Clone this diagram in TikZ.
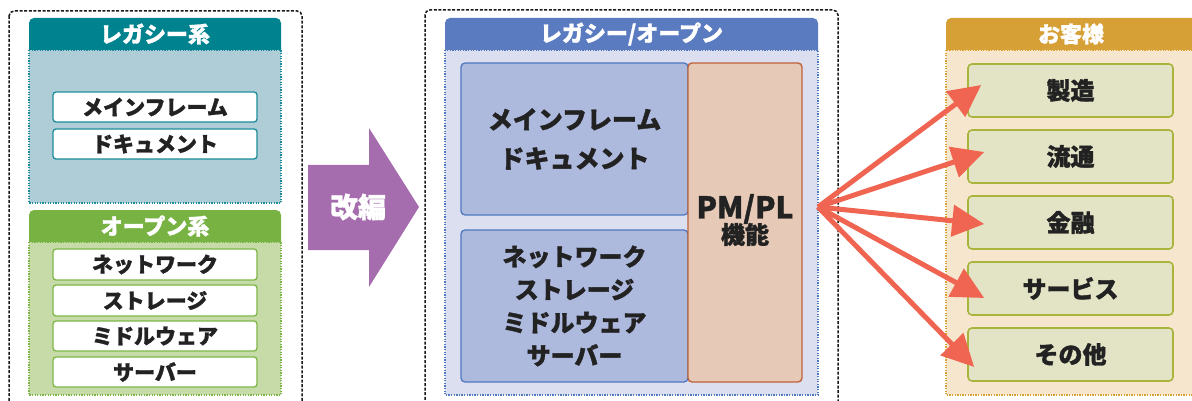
\documentclass[tikz,border=0pt]{standalone}
\usepackage{fontspec}
\setmainfont{Noto Sans CJK JP}[BoldFeatures={FakeBold=1.3}]
\usetikzlibrary{arrows.meta}
\definecolor{tealhdr}{HTML}{00838F}
\definecolor{tealbody}{HTML}{AFCDD6}
\definecolor{tealline}{HTML}{1A8C9A}
\definecolor{greenhdr}{HTML}{77B243}
\definecolor{greenbody}{HTML}{C6DBA8}
\definecolor{greenline}{HTML}{7DB648}
\definecolor{purplearr}{HTML}{A56DAD}
\definecolor{bluehdr}{HTML}{5A7BC0}
\definecolor{bluebody}{HTML}{DCDFF0}
\definecolor{blueline}{HTML}{4E78C0}
\definecolor{bluebox}{HTML}{AEB9DE}
\definecolor{pmfill}{HTML}{E6CAB7}
\definecolor{pmline}{HTML}{C0623A}
\definecolor{goldhdr}{HTML}{D6A037}
\definecolor{goldbody}{HTML}{F6E6CD}
\definecolor{goldline}{HTML}{D9A234}
\definecolor{custfill}{HTML}{E3E4C6}
\definecolor{custline}{HTML}{A9B43C}
\definecolor{coral}{HTML}{EF6551}
\definecolor{ink}{HTML}{222222}
\tikzset{
  outerbox/.style={draw=black!90, dash pattern=on 3pt off 1.6pt, line width=1.5pt, rounded corners=5pt},
  bodybox/.style={line width=1.4pt, dash pattern=on 1.3pt off 1.3pt},
  hdrtext/.style={text=white, font=\bfseries\fontsize{22}{22}\selectfont, inner sep=0pt},
  itembox/.style={rounded corners=3pt, fill=white, line width=1.3pt, minimum width=204pt, text=ink, font=\bfseries\fontsize{21}{21}\selectfont, inner sep=0pt},
  bigbox/.style={rounded corners=4pt, fill=bluebox, draw=blueline, line width=1.3pt, minimum width=227pt, minimum height=152pt, text=ink, align=center, inner sep=0pt},
  custbox/.style={rounded corners=4pt, fill=custfill, draw=custline, line width=1.6pt, minimum width=205pt, minimum height=53pt, text=ink, font=\bfseries\fontsize{24}{24}\selectfont, inner sep=0pt},
  carrow/.style={draw=coral, line width=5pt, -{Triangle[length=32pt,width=31pt]}}
}
\begin{document}
\begin{tikzpicture}[x=1pt,y=-1pt]
\useasboundingbox (0,0) rectangle (1192,401);
\clip (0,0) rectangle (1192,401);
% ---------- left panel ----------
\draw[outerbox] (9,11) rectangle (302,430);
\draw[bodybox, draw=tealline, fill=tealbody] (29,50) rectangle (281,203);
\fill[tealhdr] (29,50) [rounded corners=5pt] -- (29,18) -- (281,18) [sharp corners] -- (281,50) -- cycle;
\node[hdrtext] (legacyhdr) at (155,34) {レガシー系};
\node[itembox, draw=tealline, minimum height=30pt] (mf) at (155,107) {メインフレーム};
\node[itembox, draw=tealline, minimum height=30pt] (doc) at (155,144) {ドキュメント};
\draw[bodybox, draw=greenline, fill=greenbody] (29,242) rectangle (281,395);
\fill[greenhdr] (29,242) [rounded corners=5pt] -- (29,210) -- (281,210) [sharp corners] -- (281,242) -- cycle;
\node[hdrtext] (openhdr) at (155,226) {オープン系};
\node[itembox, draw=greenline, minimum height=31pt] (net) at (155,264.5) {ネットワーク};
\node[itembox, draw=greenline, minimum height=31pt] (sto) at (155,300.5) {ストレージ};
\node[itembox, draw=greenline, minimum height=30pt] (mid) at (155,336) {ミドルウェア};
\node[itembox, draw=greenline, minimum height=30pt] (srv) at (155,372) {サーバー};
% ---------- purple arrow ----------
\fill[purplearr] (308,165) -- (369,165) -- (369,128) -- (419,207) -- (369,287) -- (369,250) -- (308,250) -- cycle;
\node[text=white, font=\bfseries\fontsize{28}{28}\selectfont, inner sep=0pt] (kaihen) at (358,207) {改編};
% ---------- center panel ----------
\draw[outerbox] (425,10) rectangle (838,430);
\draw[bodybox, draw=blueline, fill=bluebody] (445,50) rectangle (818,395);
\fill[bluehdr] (445,50) [rounded corners=5pt] -- (445,18) -- (818,18) [sharp corners] -- (818,50) -- cycle;
\node[hdrtext] (lohdr) at (631.5,34) {レガシー/オープン};
\node[bigbox, font=\bfseries\fontsize{25}{39}\selectfont] (mfbox) at (574.5,139) {メインフレーム\\ドキュメント};
\node[bigbox, font=\bfseries\fontsize{24}{33}\selectfont] (netbox) at (574.5,306) {ネットワーク\\ストレージ\\ミドルウェア\\サーバー};
\node[rounded corners=4pt, fill=pmfill, draw=pmline, line width=1.4pt, minimum width=114pt, minimum height=319pt, inner sep=0pt] (pmpl) at (745,222.5) {};
\node[text=ink, align=center, inner sep=0pt] (pmtext) at (745,220) {{\bfseries\fontsize{30}{30}\selectfont PM/PL}\\[-2pt]{\bfseries\fontsize{24}{24}\selectfont 機能}};
% ---------- right panel ----------
\draw[bodybox, draw=goldline, fill=goldbody] (946,50) rectangle (1200,395);
\fill[goldhdr] (946,50) [rounded corners=5pt] -- (946,18) -- (1200,18) [sharp corners] -- (1200,50) -- cycle;
\node[hdrtext] (custhdr) at (1071,34) {お客様};
\node[custbox] (seizo) at (1070.5,90.5) {製造};
\node[custbox] (ryutsu) at (1070.5,156.5) {流通};
\node[custbox] (kinyu) at (1070.5,222.5) {金融};
\node[custbox] (service) at (1070.5,288.5) {サービス};
\node[custbox] (other) at (1070.5,354.5) {その他};
% ---------- arrows ----------
\coordinate (hub) at (818,207);
\draw[carrow] (hub) -- ([shift={(14,-5.5)}]seizo.west);
\draw[carrow] (hub) -- ([shift={(17,-4.5)}]ryutsu.west);
\draw[carrow] (hub) -- ([shift={(17,1.5)}]kinyu.west);
\draw[carrow] (hub) -- ([shift={(17,9.5)}]service.west);
\draw[carrow] (hub) -- ([shift={(7,12.5)}]other.west);
\end{tikzpicture}
\end{document}
